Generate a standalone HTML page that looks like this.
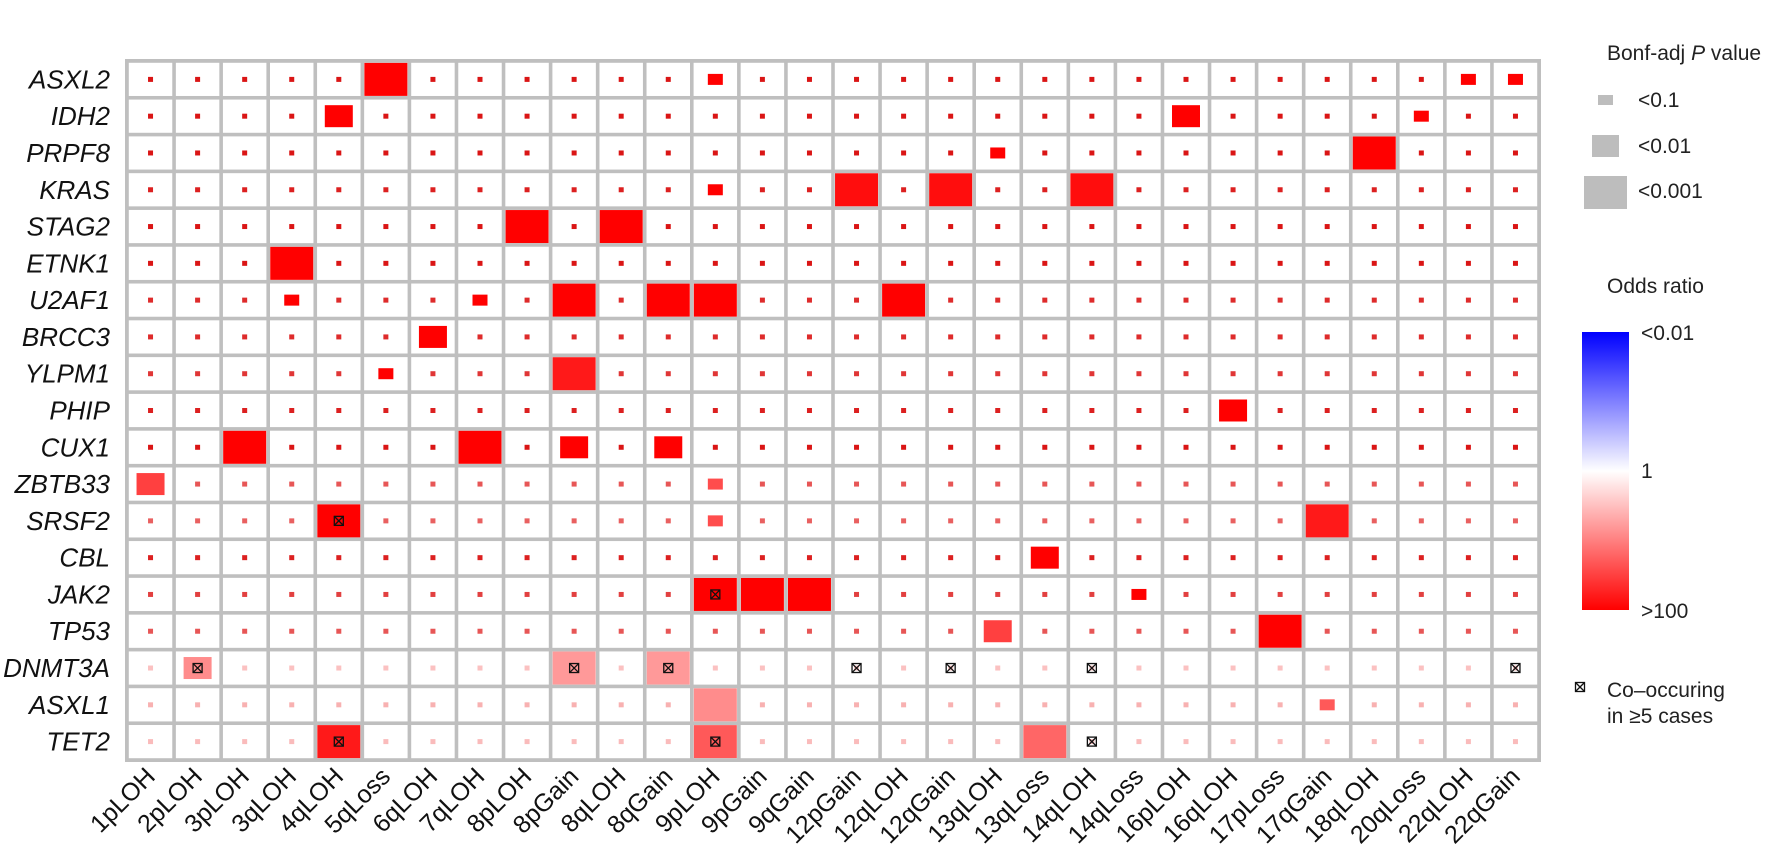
<!DOCTYPE html>
<html><head><meta charset="utf-8">
<style>
html,body{margin:0;padding:0;background:#fff;}
svg{display:block;font-family:"Liberation Sans",sans-serif;}
</style></head>
<body>
<svg id="chart" width="1777" height="868" xmlns="http://www.w3.org/2000/svg">
  <g id="grid"></g>
  <g id="cells"></g>
  <g id="rowlabels"></g>
  <g id="collabels"></g>
  <defs>
    <linearGradient id="cbar" x1="0" y1="0" x2="0" y2="1">
      <stop offset="0" stop-color="#0000ff"/>
      <stop offset="0.5" stop-color="#ffffff"/>
      <stop offset="1" stop-color="#ff0000"/>
    </linearGradient>
  </defs>
  <g>
    <text x="1607" y="60" font-size="21" fill="#222">Bonf-adj <tspan font-style="italic">P</tspan> value</text>
    <rect x="1598" y="95" width="15" height="10" fill="#bdbdbd"/>
    <text x="1638" y="107" font-size="21" fill="#222">&lt;0.1</text>
    <rect x="1592" y="135" width="27" height="22" fill="#bdbdbd"/>
    <text x="1638" y="153" font-size="21" fill="#222">&lt;0.01</text>
    <rect x="1584" y="176" width="43" height="33" fill="#bdbdbd"/>
    <text x="1638" y="198" font-size="21" fill="#222">&lt;0.001</text>
  </g>
  <g>
    <text x="1607" y="293" font-size="21" fill="#222">Odds ratio</text>
    <rect x="1582" y="332" width="47" height="278" fill="url(#cbar)"/>
    <text x="1641" y="340" font-size="21" fill="#222">&lt;0.01</text>
    <text x="1641" y="478" font-size="21" fill="#222">1</text>
    <text x="1641" y="618" font-size="21" fill="#222">&gt;100</text>
  </g>
  <g>
    <g id="legcross"></g>
    <text x="1607" y="697" font-size="21" fill="#222">Co–occuring</text>
    <text x="1607" y="723" font-size="21" fill="#222">in ≥5 cases</text>
  </g>
</svg>
<script>
const genes = ["ASXL2","IDH2","PRPF8","KRAS","STAG2","ETNK1","U2AF1","BRCC3","YLPM1","PHIP","CUX1","ZBTB33","SRSF2","CBL","JAK2","TP53","DNMT3A","ASXL1","TET2"];
const events = ["1pLOH","2pLOH","3pLOH","3qLOH","4qLOH","5qLoss","6qLOH","7qLOH","8pLOH","8pGain","8qLOH","8qGain","9pLOH","9pGain","9qGain","12pGain","12qLOH","12qGain","13qLOH","13qLoss","14qLOH","14qLoss","16pLOH","16qLOH","17pLoss","17qGain","18qLOH","20qLoss","22qLOH","22qGain"];
// default log10 odds ratio of non-significant cells per gene row
const rowDotLogOR = [1.8,1.8,1.8,1.7,1.8,1.8,1.6,1.6,1.5,1.7,1.8,1.2,1.1,1.7,1.4,1.2,0.2,0.35,0.25];
// significant cells: [row, col, pLevel (1:<0.1,2:<0.01,3:<0.001), log10 OR]
const sigCells = [
 [0,5,3,2],[0,12,1,2],[0,28,1,2],[0,29,1,2],
 [1,4,2,2],[1,22,2,2],[1,27,1,2],
 [2,18,1,2],[2,26,3,2],
 [3,12,1,2],[3,15,3,1.9],[3,17,3,1.9],[3,20,3,1.9],
 [4,8,3,2],[4,10,3,2],
 [5,3,3,2],
 [6,3,1,2],[6,7,1,2],[6,9,3,2],[6,11,3,2],[6,12,3,2],[6,16,3,2],
 [7,6,2,2],
 [8,5,1,2],[8,9,3,1.8],
 [9,23,2,2],
 [10,2,3,2],[10,7,3,2],[10,9,2,2],[10,11,2,2],
 [11,0,2,1.5],[11,12,1,1.4],
 [12,4,3,2],[12,12,1,1.4],[12,25,3,1.8],
 [13,19,2,2],
 [14,12,3,2],[14,13,3,2],[14,14,3,2],[14,21,1,2],
 [15,18,2,1.5],[15,24,3,2],
 [16,1,2,0.9],[16,9,3,0.8],[16,11,3,0.8],
 [17,12,3,0.9],[17,25,1,1.3],
 [18,4,3,1.8],[18,12,3,1.3],[18,19,3,1.2]
];
// co-occurring in >=5 cases: [row, col]
const crossCells = [[12,4],[14,12],[16,1],[16,9],[16,11],[16,15],[16,17],[16,20],[16,29],[18,4],[18,12],[18,20]];

const NS="http://www.w3.org/2000/svg";
const X0=127, X1=1539, Y0=61, Y1=760;
const cw=(X1-X0)/events.length, rh=(Y1-Y0)/genes.length;
const xC=i=>X0+cw*(i+0.5), yC=j=>Y0+rh*(j+0.5);
const sizes={0:[5,5],1:[15,11],2:[28,22],3:[43,33]};
function col(lor,dark){
  const t=Math.max(-1,Math.min(1,lor/2));
  const k=dark?0.84:1;
  if(t>=0){const v=Math.round(255*(1-t)*k+ (dark?0:0));return `rgb(${Math.round(255*(dark?(0.84+0.16*(1-t)):1))},${Math.round(v)},${Math.round(v)})`;}
  const v=Math.round(255*(1+t));return `rgb(${v},${v},255)`;
}
function mk(tag,attrs,parent){const e=document.createElementNS(NS,tag);for(const k in attrs)e.setAttribute(k,attrs[k]);parent.appendChild(e);return e;}
const grid=document.getElementById('grid'), cells=document.getElementById('cells');
const bg=mk('rect',{x:X0-2,y:Y0-2,width:X1-X0+4,height:Y1-Y0+4,fill:'#bfbfbf'},grid);


const g=1.8;
genes.forEach((gn,j)=>{events.forEach((ev,i)=>{
  const r=mk('rect',{x:X0+cw*i+g,y:Y0+rh*j+g,width:cw-2*g,height:rh-2*g,fill:'#fff'},grid);
  
  
});});
const sigMap={};
sigCells.forEach(s=>{sigMap[s[0]+'_'+s[1]]=s;});
genes.forEach((gn,j)=>{events.forEach((ev,i)=>{
  const s=sigMap[j+'_'+i];
  const lvl=s?s[2]:0, lor=s?s[3]:rowDotLogOR[j];
  const [w,h]=sizes[lvl];
  const r=mk('rect',{x:xC(i)-w/2,y:yC(j)-h/2,width:w,height:h,fill:col(lor,lvl===0)},cells);
  
  
});});
function cross(cx,cy,parent){
  const gg=mk('g',{stroke:'#111','stroke-width':1.3,fill:'none'},parent);
  mk('rect',{x:cx-4.5,y:cy-4.5,width:9,height:9},gg);
  mk('line',{x1:cx-4.5,y1:cy-4.5,x2:cx+4.5,y2:cy+4.5},gg);
  mk('line',{x1:cx+4.5,y1:cy-4.5,x2:cx-4.5,y2:cy+4.5},gg);
  return gg;
}
crossCells.forEach(c=>{
  const m=cross(xC(c[1]),yC(c[0]),cells);
  
  
});
cross(1580,687,document.getElementById('legcross'));
const rl=document.getElementById('rowlabels');
genes.forEach((gn,j)=>{
  const t=mk('text',{x:110,y:yC(j)+9,'text-anchor':'end','font-size':26,'font-style':'italic',fill:'#111'},rl);
  t.textContent=gn;
  
  
});
const cl=document.getElementById('collabels');
events.forEach((ev,i)=>{
  const x=xC(i)+6, y=778;
  const t=mk('text',{x:x,y:y,'text-anchor':'end','font-size':25,fill:'#111',transform:`rotate(-45 ${x} ${y})`},cl);
  t.textContent=ev;
  
  
});
</script>
</body></html>
